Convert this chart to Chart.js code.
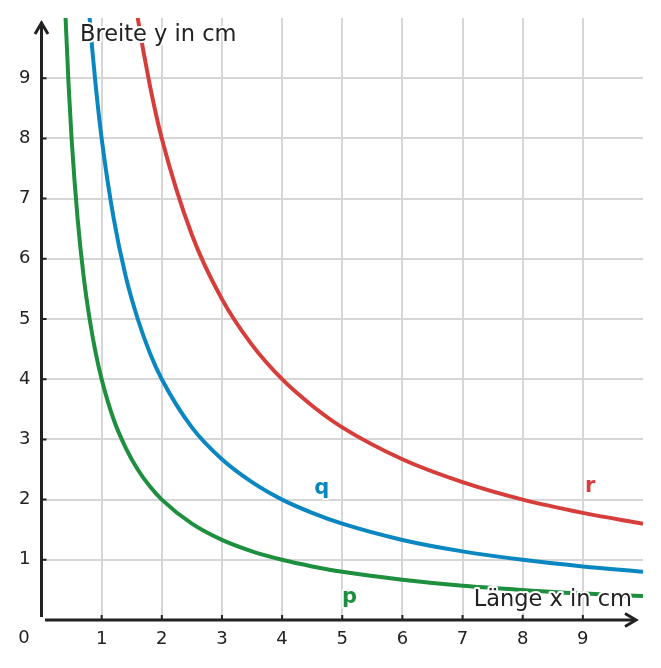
<!DOCTYPE html>
<html>
<head>
<meta charset="utf-8">
<script src="https://cdn.jsdelivr.net/npm/chart.js@4/dist/chart.umd.min.js"></script>
<style>
  html, body { margin: 0; padding: 0; background: #fff; }
  #wrap { width: 661px; height: 668px; }
</style>
</head>
<body>
<div id="wrap"><canvas id="hyp"></canvas></div>
<script>
// x values (Länge) and readings of y (Breite) for each curve
const lengths = [0.35, 0.4, 0.45, 0.5, 0.6, 0.7, 0.8, 0.9, 1, 1.2, 1.4, 1.6, 1.8, 2, 2.5, 3, 3.5, 4, 4.5, 5, 6, 7, 8, 9, 10];
const pValues = [11.4, 10, 8.9, 8, 6.67, 5.71, 5, 4.44, 4, 3.33, 2.86, 2.5, 2.22, 2, 1.6, 1.33, 1.14, 1, 0.89, 0.8, 0.67, 0.57, 0.5, 0.44, 0.4];
const qValues = [null, null, null, null, null, 11.4, 10, 8.89, 8, 6.67, 5.71, 5, 4.44, 4, 3.2, 2.67, 2.29, 2, 1.78, 1.6, 1.33, 1.14, 1, 0.89, 0.8];
const rValues = [null, null, null, null, null, null, null, null, null, null, 11.4, 10, 8.89, 8, 6.4, 5.33, 4.57, 4, 3.56, 3.2, 2.67, 2.29, 2, 1.78, 1.6];
const tickLabels = ['1', '2', '3', '4', '5', '6', '7', '8', '9'];

const GREEN = '#1d8f3f';
const BLUE = '#0a87c1';
const RED = '#d63e3b';
const INK = '#222222';

function toPoints(values) {
    const pts = [];
    values.forEach((v, i) => {
        if (v !== null) pts.push({ x: lengths[i], y: v });
    });
    return pts;
}

function line(label, values, color) {
    return {
        label: label,
        data: toPoints(values),
        borderColor: color,
        borderWidth: 4,
        pointRadius: 0,
        fill: false,
        cubicInterpolationMode: 'monotone'
    };
}

const curveLabels = [
    { text: 'q', x: 4.66, y: 2.19, color: BLUE },
    { text: 'r', x: 9.12, y: 2.21, color: RED },
    { text: 'p', x: 5.12, y: 0.37, color: GREEN }
];

function haloText(c, text, x, y) {
    c.lineWidth = 4;
    c.strokeStyle = '#fff';
    c.lineJoin = 'round';
    c.strokeText(text, x, y);
    c.fillText(text, x, y);
}

const decorations = {
    id: 'decorations',
    afterDraw(chart) {
        const c = chart.ctx;
        const xs = chart.scales.x;
        const ys = chart.scales.y;
        const x0 = xs.getPixelForValue(0);
        const y0 = ys.getPixelForValue(0);
        c.save();

        // axes with open arrow heads
        c.strokeStyle = INK;
        c.lineWidth = 3;
        c.lineCap = 'butt';
        c.beginPath();
        c.moveTo(x0, y0 - 3);
        c.lineTo(x0, 22);
        c.moveTo(x0 + 3.5, y0);
        c.lineTo(636, y0);
        c.stroke();
        c.lineJoin = 'miter';
        c.beginPath();
        c.moveTo(x0 - 6.5, 34);
        c.lineTo(x0, 23);
        c.lineTo(x0 + 6.5, 34);
        c.moveTo(625, y0 - 6.5);
        c.lineTo(636, y0);
        c.lineTo(625, y0 + 6.5);
        c.stroke();

        // small tick marks
        c.lineWidth = 2;
        c.beginPath();
        for (let i = 1; i <= 9; i++) {
            const px = xs.getPixelForValue(i);
            c.moveTo(px, y0);
            c.lineTo(px, y0 - 5);
            const py = ys.getPixelForValue(i);
            c.moveTo(x0, py);
            c.lineTo(x0 + 5, py);
        }
        c.stroke();

        // origin label
        c.fillStyle = INK;
        c.font = '18px "DejaVu Sans"';
        c.textAlign = 'center';
        c.textBaseline = 'middle';
        c.fillText('0', 24, 638);

        // axis titles
        c.font = '22.5px "DejaVu Sans"';
        c.textAlign = 'left';
        haloText(c, 'Breite y in cm', 80, 35);
        c.textAlign = 'right';
        haloText(c, 'Länge x in cm', 632, 600);

        // curve names
        c.font = 'bold 21px "DejaVu Sans"';
        c.textAlign = 'center';
        curveLabels.forEach(l => {
            c.fillStyle = l.color;
            haloText(c, l.text, xs.getPixelForValue(l.x), ys.getPixelForValue(l.y));
        });
        c.restore();
    }
};

function gridColor(ctx) {
    const v = ctx.tick ? ctx.tick.value : 0;
    return (v <= 0 || v >= 10) ? 'rgba(0,0,0,0)' : '#d6d6d6';
}

new Chart(document.getElementById('hyp'), {
    type: 'line',
    data: {
        datasets: [
            line('p', pValues, GREEN),
            line('q', qValues, BLUE),
            line('r', rValues, RED)
        ]
    },
    options: {
        responsive: true,
        maintainAspectRatio: false,
        animation: false,
        layout: { padding: { top: 18, right: 18, left: 0, bottom: 0 } },
        plugins: {
            legend: { display: false },
            tooltip: { enabled: false }
        },
        scales: {
            x: {
                type: 'linear',
                min: 0,
                max: 10,
                afterFit(scale) {
                    scale.height = 48;
                    scale.paddingLeft = 0;
                    scale.paddingRight = 0;
                },
                border: { display: false },
                grid: { color: gridColor, lineWidth: 2, drawTicks: false },
                ticks: {
                    stepSize: 1,
                    padding: 9,
                    color: INK,
                    font: { family: 'DejaVu Sans', size: 18 },
                    maxRotation: 0,
                    callback: v => (v >= 1 && v <= 9) ? tickLabels[v - 1] : ''
                }
            },
            y: {
                type: 'linear',
                min: 0,
                max: 10,
                afterFit(scale) {
                    scale.width = 41.5;
                    scale.paddingTop = 0;
                    scale.paddingBottom = 0;
                },
                border: { display: false },
                grid: { color: gridColor, lineWidth: 2, drawTicks: false },
                ticks: {
                    stepSize: 1,
                    padding: 11,
                    color: INK,
                    font: { family: 'DejaVu Sans', size: 18 },
                    callback: v => (v >= 1 && v <= 9) ? tickLabels[v - 1] : ''
                }
            }
        }
    },
    plugins: [decorations]
});
</script>
</body>
</html>
